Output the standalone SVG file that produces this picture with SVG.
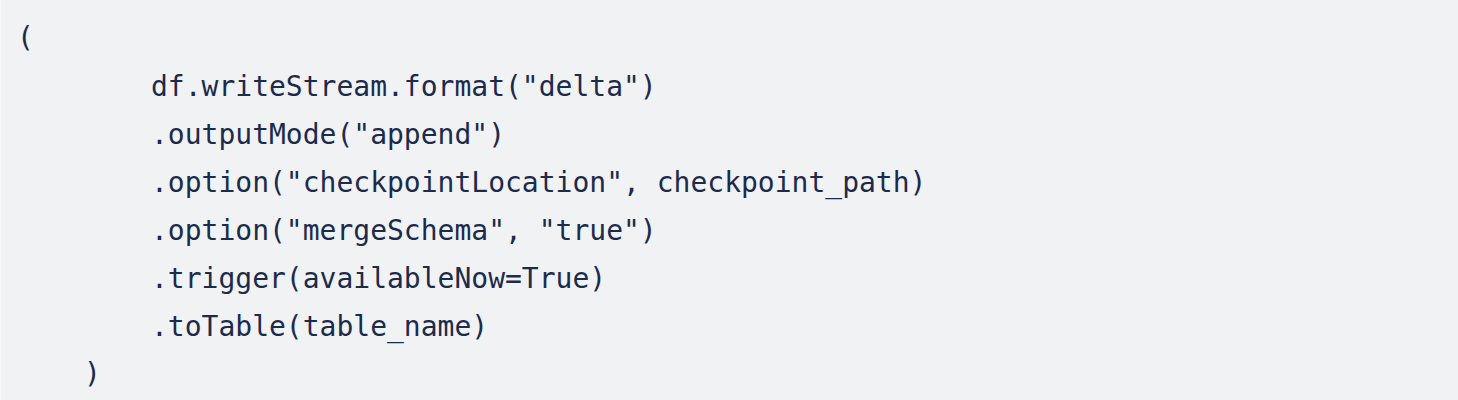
<svg xmlns="http://www.w3.org/2000/svg" width="1458" height="400" viewBox="0 0 1458 400">
<style>
.code{font-family:"DejaVu Sans Mono","Liberation Mono",monospace;font-size:28px;fill:#1c2b4c;white-space:pre}
</style>
<rect x="0" y="0" width="1458" height="400" fill="#f1f2f4"/>
<rect x="0" y="0" width="1" height="400" fill="#f6f7f8"/>
<g id="code">
<text class="code" x="17" y="46.5">(</text>
<text class="code" x="151" y="95.5">df.writeStream.format("delta")</text>
<text class="code" x="151" y="143.5">.outputMode("append")</text>
<text class="code" x="151" y="191.5">.option("checkpointLocation", checkpoint_path)</text>
<text class="code" x="151" y="239.5">.option("mergeSchema", "true")</text>
<text class="code" x="151" y="287.5">.trigger(availableNow=True)</text>
<text class="code" x="151" y="335.5">.toTable(table_name)</text>
<text class="code" x="84" y="383">)</text>
</g>
</svg>
